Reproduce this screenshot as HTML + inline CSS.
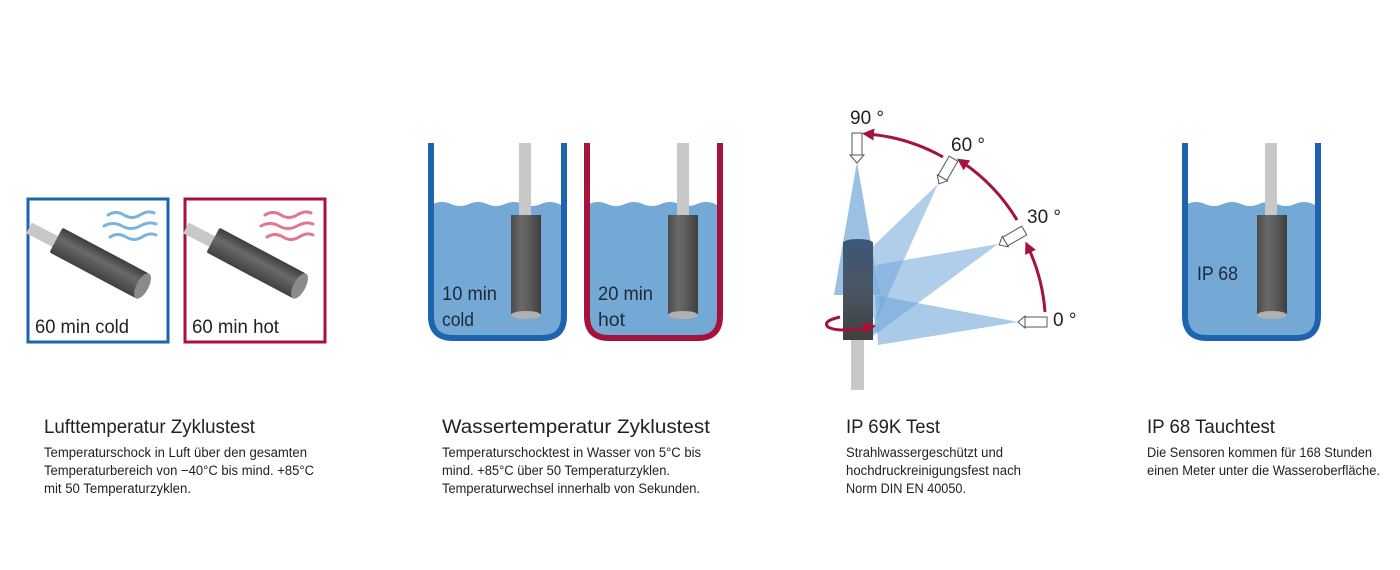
<!DOCTYPE html>
<html><head><meta charset="utf-8"><style>
html,body{margin:0;padding:0;background:#fff;}
svg{display:block;font-family:"Liberation Sans",sans-serif;}
</style></head><body>
<svg width="1400" height="570" viewBox="0 0 1400 570" xmlns="http://www.w3.org/2000/svg">
<defs>
<linearGradient id="cylH" x1="0" x2="1" y1="0" y2="0">
<stop offset="0" stop-color="#4a4a4a"/><stop offset="0.35" stop-color="#6a6a6a"/><stop offset="0.6" stop-color="#5c5c5c"/><stop offset="1" stop-color="#3e3e3e"/></linearGradient>
<linearGradient id="cylD" x1="0" x2="0" y1="0" y2="1">
<stop offset="0" stop-color="#3c3c3c"/><stop offset="0.4" stop-color="#6a6a6a"/><stop offset="1" stop-color="#404040"/></linearGradient>
<linearGradient id="cylB" x1="0" x2="0" y1="0" y2="1">
<stop offset="0" stop-color="#3d5878"/><stop offset="0.5" stop-color="#4a5563"/><stop offset="1" stop-color="#404040"/></linearGradient>
<marker id="ar" viewBox="0 0 10 10" refX="5" refY="5" markerWidth="4" markerHeight="4" orient="auto"><path d="M0,0 L10,5 L0,10 z" fill="#a5133a"/></marker>
</defs>

<!-- Panel 1 -->
<rect x="28" y="199" width="140" height="143" fill="none" stroke="#1d63ad" stroke-width="3"/>
<rect x="185" y="199" width="140" height="143" fill="none" stroke="#a5133a" stroke-width="3"/>
<g fill="none" stroke="#7ab3dd" stroke-width="3" stroke-linecap="round">
<path d="M108,215 q8,-5 16,0 t16,0 t14,-2"/><path d="M104,226 q9,-5 18,0 t18,0 t16,-2"/><path d="M110,237 q8,-5 16,0 t16,0 t14,-2"/>
</g>
<g fill="none" stroke="#e27690" stroke-width="3" stroke-linecap="round">
<path d="M265,215 q8,-5 16,0 t16,0 t14,-2"/><path d="M261,226 q9,-5 18,0 t18,0 t16,-2"/><path d="M267,237 q8,-5 16,0 t16,0 t14,-2"/>
</g>
<g>
<path d="M29,228 L60,244" stroke="#c8c8c8" stroke-width="12"/>
<g transform="translate(56,240) rotate(28)"><rect x="0" y="-14" width="98" height="28" rx="2" fill="url(#cylD)"/><ellipse cx="98" cy="0" rx="6" ry="14" fill="#8a8a8a"/></g>
<path d="M186,228 L217,244" stroke="#c8c8c8" stroke-width="12"/>
<g transform="translate(213,240) rotate(28)"><rect x="0" y="-14" width="98" height="28" rx="2" fill="url(#cylD)"/><ellipse cx="98" cy="0" rx="6" ry="14" fill="#8a8a8a"/></g>
</g>
<text x="35" y="333" font-size="19" fill="#222" textLength="94" lengthAdjust="spacingAndGlyphs">60 min cold</text>
<text x="192" y="333" font-size="19" fill="#222" textLength="87" lengthAdjust="spacingAndGlyphs">60 min hot</text>

<!-- Panel 2 tanks -->
<g>
<path d="M433,204 q9,-4 18,0 t18,0 t18,0 t18,0 t18,0 t18,0 t18,0 t6,0 L564,316 q0,20 -20,20 L452,336 q-20,0 -20,-20 Z" fill="#74a9d6"/>
<path d="M431,143 L431,316 q0,22 22,22 L542,338 q22,0 22,-22 L564,143" fill="none" stroke="#1d63ad" stroke-width="6"/>
<rect x="519" y="143" width="12" height="73" fill="#c8c8c8"/>
<rect x="511" y="215" width="30" height="100" fill="url(#cylH)"/>
<ellipse cx="526" cy="315" rx="15" ry="4" fill="#b0b0b0"/>
<text x="442" y="300" font-size="19" fill="#1e2a38" textLength="55" lengthAdjust="spacingAndGlyphs">10 min</text>
<text x="442" y="326" font-size="19" fill="#1e2a38" textLength="32" lengthAdjust="spacingAndGlyphs">cold</text>
</g>
<g>
<path d="M589,204 q9,-4 18,0 t18,0 t18,0 t18,0 t18,0 t18,0 t18,0 t6,0 L720,316 q0,20 -20,20 L608,336 q-20,0 -20,-20 Z" fill="#74a9d6"/>
<path d="M587,143 L587,316 q0,22 22,22 L698,338 q22,0 22,-22 L720,143" fill="none" stroke="#a5133a" stroke-width="6"/>
<rect x="677" y="143" width="12" height="73" fill="#c8c8c8"/>
<rect x="668" y="215" width="30" height="100" fill="url(#cylH)"/>
<ellipse cx="683" cy="315" rx="15" ry="4" fill="#b0b0b0"/>
<text x="598" y="300" font-size="19" fill="#1e2a38" textLength="55" lengthAdjust="spacingAndGlyphs">20 min</text>
<text x="598" y="326" font-size="19" fill="#1e2a38" textLength="27" lengthAdjust="spacingAndGlyphs">hot</text>
</g>

<!-- Panel 3 -->
<g>
<rect x="851" y="340" width="13" height="50" fill="#c8c8c8"/>
<polygon points="857,162 834,295 880,295" fill="#6fa6d8" opacity="0.7"/>
<polygon points="938,184 870,335 880,330 848,270" fill="#6fa6d8" opacity="0.55"/>
<polygon points="998,244 868,340 880,305 876,265" fill="#6fa6d8" opacity="0.55"/>
<polygon points="1018,322 878,345 875,295" fill="#6fa6d8" opacity="0.6"/>
<rect x="843" y="242" width="30" height="98" fill="url(#cylB)"/>
<ellipse cx="858" cy="243" rx="15" ry="4" fill="#3d5878"/>
<path d="M840,317 q-18,4 -12,10 q10,6 42,0" fill="none" stroke="#a5133a" stroke-width="3" marker-end="url(#ar)"/>
<!-- nozzles -->
<g fill="#fff" stroke="#555" stroke-width="1">
<rect x="852" y="133" width="10" height="22"/><polygon points="850,155 864,155 857,163"/>
<g transform="translate(947,170) rotate(-60)"><rect x="-9" y="-5" width="22" height="10"/><polygon points="-9,-6 -9,6 -16,0"/></g>
<g transform="translate(1013,237) rotate(-30)"><rect x="-9" y="-5" width="22" height="10"/><polygon points="-9,-6 -9,6 -16,0"/></g>
<rect x="1025" y="317" width="22" height="10"/><polygon points="1025,316 1025,328 1018,322"/>
</g>
<g fill="none" stroke="#a5133a" stroke-width="3" marker-end="url(#ar)">
<path d="M1045,312 A185,185 0 0 0 1028,247"/>
<path d="M1017,220 A185,185 0 0 0 962,162"/>
<path d="M943,157 A185,185 0 0 0 868,134"/>
</g>
<g font-size="19" fill="#222">
<text x="850" y="124">90 °</text><text x="951" y="151">60 °</text><text x="1027" y="223">30 °</text><text x="1053" y="326">0 °</text>
</g>
</g>

<!-- Panel 4 -->
<g>
<path d="M1187,204 q9,-4 18,0 t18,0 t18,0 t18,0 t18,0 t18,0 t18,0 t6,0 L1318,316 q0,20 -20,20 L1206,336 q-20,0 -20,-20 Z" fill="#74a9d6"/>
<path d="M1185,143 L1185,316 q0,22 22,22 L1296,338 q22,0 22,-22 L1318,143" fill="none" stroke="#1d63ad" stroke-width="6"/>
<rect x="1265" y="143" width="12" height="73" fill="#c8c8c8"/>
<rect x="1257" y="215" width="30" height="100" fill="url(#cylH)"/>
<ellipse cx="1272" cy="315" rx="15" ry="4" fill="#b0b0b0"/>
<text x="1197" y="280" font-size="19" fill="#1e2a38" textLength="41" lengthAdjust="spacingAndGlyphs">IP 68</text>
</g>

<!-- Text -->
<g fill="#222">
<g font-size="19">
<text x="44" y="433" textLength="211" lengthAdjust="spacingAndGlyphs">Lufttemperatur Zyklustest</text>
<text x="442" y="433" textLength="268" lengthAdjust="spacingAndGlyphs">Wassertemperatur Zyklustest</text>
<text x="846" y="433" textLength="94" lengthAdjust="spacingAndGlyphs">IP 69K Test</text>
<text x="1147" y="433" textLength="128" lengthAdjust="spacingAndGlyphs">IP 68 Tauchtest</text>
</g>
<g font-size="13.5">
<text x="44" y="457" textLength="263" lengthAdjust="spacingAndGlyphs">Temperaturschock in Luft über den gesamten</text>
<text x="44" y="475" textLength="270" lengthAdjust="spacingAndGlyphs">Temperaturbereich von −40°C bis mind. +85°C</text>
<text x="44" y="493" textLength="147" lengthAdjust="spacingAndGlyphs">mit 50 Temperaturzyklen.</text>
<text x="442" y="457" textLength="259" lengthAdjust="spacingAndGlyphs">Temperaturschocktest in Wasser von 5°C bis</text>
<text x="442" y="475" textLength="228" lengthAdjust="spacingAndGlyphs">mind. +85°C über 50 Temperaturzyklen.</text>
<text x="442" y="493" textLength="258" lengthAdjust="spacingAndGlyphs">Temperaturwechsel innerhalb von Sekunden.</text>
<text x="846" y="457" textLength="157" lengthAdjust="spacingAndGlyphs">Strahlwassergeschützt und</text>
<text x="846" y="475" textLength="175" lengthAdjust="spacingAndGlyphs">hochdruckreinigungsfest nach</text>
<text x="846" y="493" textLength="120" lengthAdjust="spacingAndGlyphs">Norm DIN EN 40050.</text>
<text x="1147" y="457" textLength="225" lengthAdjust="spacingAndGlyphs">Die Sensoren kommen für 168 Stunden</text>
<text x="1147" y="475" textLength="233" lengthAdjust="spacingAndGlyphs">einen Meter unter die Wasseroberfläche.</text>
</g>
</g>
</svg>
</body></html>
